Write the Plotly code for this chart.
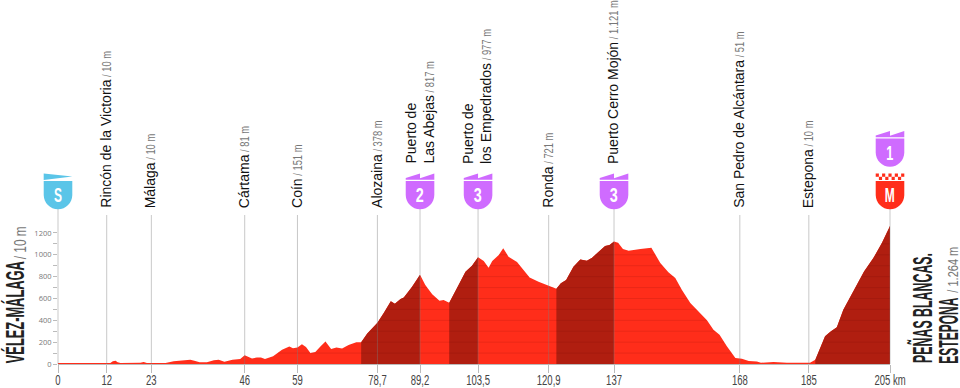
import json
import numpy as np
import plotly.graph_objects as go

# ---- data ----
km = [0, 12.9, 13.5, 14.2, 14.7, 15.4, 20.3, 21.1, 21.9, 23, 26.5, 28.5, 30.6, 32.6, 33.6, 34.9, 36.7, 38.4, 39.6, 41,
      43, 44.9, 46, 47.8, 49, 50, 51, 53, 55.2, 57, 57.9, 59, 60.1, 61.1, 62.2, 63.4, 64.66, 65.9, 67.3, 68.6, 70,
      71.6, 73.5, 74.7, 76.2, 78.2, 78.7, 80.3, 82, 83, 84.4, 85.2, 87.2, 89.2, 90.5, 92.2, 94, 95, 96.4, 98.3,
      100.4, 102, 103.5, 104.9, 106.1, 107, 108.6, 109.7, 111, 113.1, 114.7, 116.2, 118.4, 120.9, 122.8, 123.9,
      125.2, 127, 128.7, 130.3, 131.6, 134.8, 135.9, 137, 138, 139.2, 140.6, 143.5, 146.2, 148.4, 150.4, 152.1,
      153.7, 155.8, 157.8, 159.9, 161.5, 163, 164.8, 166.9, 168.5, 170.2, 172.2, 173.2, 176.3, 179.6, 185.3, 186.6,
      187.8, 189, 190.3, 191.9, 193.5, 196, 198.6, 200.9, 203, 205]
elevation = [10, 10, 25, 30, 15, 10, 12, 18, 10, 10, 10, 25, 35, 40, 30, 15, 15, 35, 40, 20,
             40, 45, 81, 50, 60, 60, 45, 70, 130, 160, 145, 151, 180, 155, 100, 110, 160, 207, 137, 150, 143,
             174, 200, 200, 280, 357, 378, 470, 574, 552, 595, 610, 705, 817, 723, 638, 580, 586, 561, 693,
             845, 900, 977, 943, 882, 943, 998, 1059, 983, 934, 860, 793, 754, 721, 690, 739,
             770, 891, 958, 946, 974, 1080, 1090, 1121, 1110, 1053, 1037, 1053, 1065, 925, 840, 788,
             681, 559, 482, 400, 314, 269, 162, 55, 49, 27, 24, 12, 18, 12, 12, 40,
             146, 253, 296, 336, 497, 665, 848, 970, 1108, 1264]
climb_starts = [74.7, 96.4, 122.8, 186.6]
climb_ends = [89.2, 103.5, 137, 205]

tick_km = [0, 12, 23, 46, 59, 78.7, 89.2, 103.5, 120.9, 137, 168, 185, 205]
tick_text = ["0", "12", "23", "46", "59", "78,7", "89,2", "103,5", "120,9", "137", "168", "185", "205 km"]

place_km = [12, 23, 46, 59, 78.7, 89.2, 103.5, 120.9, 137, 168, 185]
place_names = ["Rincón de la Victoria", "Málaga", "Cártama", "Coín", "Alozaina", "Puerto de<br>Las Abejas",
               "Puerto de<br>los Empedrados", "Ronda", "Puerto Cerro Mojón", "San Pedro de Alcántara", "Estepona"]
place_alt = ["10 m", "10 m", "81 m", "151 m", "378 m", "817 m", "977 m", "721 m", "1.121 m", "51 m", "10 m"]
place_badged = [False, False, False, False, False, True, True, False, True, False, False]

climb_km = [89.2, 103.5, 137]
climb_cat = ["2", "3", "3"]

RED, DARK, PURPLE, BLUE = "#FF2D1A", "#B01E10", "#CF6BFF", "#5BC5E8"
SANS = "Liberation Sans"
W, H = 960, 388
L, R, T, B = 57.5, 70, 220, 24
PW = W - L - R
PXKM = PW / 205
PXM = 0.1092
PH = H - T - B

def py(p):
    return (H - B - p) / PH

def kp(k, dx=0.0):
    return (k * PXKM + dx) / PW

def pp(px):
    return (px - L) / PW

fig = go.Figure()
km_a, el_a = np.array(km), np.array(elevation)
fig.add_trace(go.Scatter(x=km, y=elevation, mode="lines", line=dict(width=0, color=RED), fill="tozeroy",
                         fillcolor=RED, hoverinfo="skip", showlegend=False))
for s, e in zip(climb_starts, climb_ends):
    xs = np.concatenate([[s], km_a[(km_a > s) & (km_a < e)], [e]])
    ys = np.interp(xs, km_a, el_a)
    fig.add_trace(go.Scatter(x=xs, y=ys, mode="lines", line=dict(width=0, color=DARK), fill="tozeroy",
                             fillcolor=DARK, hoverinfo="skip", showlegend=False))

# faint 100 m rules clipped to the profile
fine = np.linspace(0, 205, 2051)
fine_el = np.interp(fine, km_a, el_a)
gx, gy = [], []
for lvl in range(100, 1300, 100):
    inside = fine_el > lvl
    for i in range(len(fine)):
        if inside[i]:
            gx.append(float(fine[i])); gy.append(lvl)
        elif gx and gx[-1] is not None:
            gx.append(None); gy.append(None)
    if gx and gx[-1] is not None:
        gx.append(None); gy.append(None)
fig.add_trace(go.Scatter(x=gx, y=gy, mode="lines", line=dict(width=1, color="rgba(90,0,0,0.12)"),
                         hoverinfo="skip", showlegend=False))

shapes, annos = [], []

# vertical markers
for k, badged in zip([0] + place_km + [205], [True] + place_badged + [True]):
    shapes.append(dict(type="line", xref="paper", yref="paper", x0=kp(k), x1=kp(k), y0=py(364),
                       y1=py(209 if badged else 215), line=dict(color="rgba(125,125,125,0.42)", width=1)))


def body(k, top, color):
    bot = top + 28.3
    r = 14.3
    return dict(type="path", xref="paper", yref="paper", line=dict(width=0), fillcolor=color,
                path=f"M {kp(k,-r)},{py(top)} L {kp(k,r)},{py(top)} L {kp(k,r)},{py(bot-r)} "
                     f"C {kp(k,r)},{py(bot-r*0.45)} {kp(k,r*0.55)},{py(bot)} {kp(k)},{py(bot)} "
                     f"C {kp(k,-r*0.55)},{py(bot)} {kp(k,-r)},{py(bot-r*0.45)} {kp(k,-r)},{py(bot-r)} Z")


def flags(k, top, color):
    r = 14.3
    return dict(type="path", xref="paper", yref="paper", line=dict(width=0), fillcolor=color,
                path=f"M {kp(k,-r)},{py(top-1.2)} L {kp(k,-r)},{py(top-3)} L {kp(k)},{py(top-7.5)} "
                     f"L {kp(k)},{py(top-2.8)} L {kp(k,r)},{py(top-7.5)} L {kp(k,r)},{py(top-1.2)} Z")


def badge_text(k, y, s):
    annos.append(dict(x=kp(k), xref="paper", y=py(y), yref="paper", text=s, showarrow=False, xanchor="center",
                      yanchor="middle", font=dict(family=SANS, size=21, color="white", weight=700)))


# start badge
shapes.append(dict(type="path", xref="paper", yref="paper", line=dict(width=0), fillcolor=BLUE,
                   path=f"M {kp(0,-14.3)},{py(173.5)} L {kp(0,14.3)},{py(176.5)} L {kp(0,-14.3)},{py(180)} Z"))
shapes.append(body(0, 181, BLUE))
badge_text(0, 194.5, "S")

# climb badges
for k, c in zip(climb_km, climb_cat):
    shapes.append(flags(k, 181, PURPLE))
    shapes.append(body(k, 181, PURPLE))
    badge_text(k, 194.5, c)

# finish badges
shapes.append(flags(205, 138.5, PURPLE))
shapes.append(body(205, 138.5, PURPLE))
badge_text(205, 152, "1")
shapes.append(body(205, 181, RED))
badge_text(205, 194.5, "M")
for row, (y0, y1) in enumerate([(173.5, 176.8), (176.8, 180)]):
    for col in range(9):
        if (row + col) % 2 == 0:
            shapes.append(dict(type="rect", xref="paper", yref="paper", line=dict(width=0), fillcolor=RED,
                               x0=kp(205, -14.3 + col * 3.18), x1=kp(205, -14.3 + (col + 1) * 3.18),
                               y0=py(y1), y1=py(y0)))

# place labels
for k, n, a, b in zip(place_km, place_names, place_alt, place_badged):
    txt = (f"{n}<span style=\"font-size:13px;color:#777;font-weight:300\"> / {a}</span>")
    annos.append(dict(x=kp(k), xref="paper", y=py(165 if b else 209), yref="paper", text=txt, showarrow=False,
                      textangle=-90, xanchor="center", yanchor="bottom", align="left",
                      font=dict(family=SANS, size=14, color="#111"), borderpad=0, xshift=-1))

# start / finish titles (placed by their centre because they are condensed after layout)
title_targets = {"VÉLEZ-MÁLAGA": 102, "PEÑAS BLANCAS.": 110, "ESTEPONA": 66, "S": 8, "M": 10, "1": 7, "2": 8, "3": 8,
                 "/ 10 m": 33, "/ 1.264 m": 46}
for px_x, centre, s, size in [(14, 312, "VÉLEZ-MÁLAGA", 25), (922, 308, "PEÑAS BLANCAS.", 27),
                              (949, 330, "ESTEPONA", 27)]:
    annos.append(dict(x=pp(px_x), xref="paper", y=py(centre), yref="paper", text=s, showarrow=False, textangle=-90,
                      xanchor="center", yanchor="middle", font=dict(family=SANS, size=size, color="#222", weight=700),
                      borderpad=0))
annos.append(dict(x=pp(20), xref="paper", y=py(243.5), yref="paper", text="/ 10 m", showarrow=False, textangle=-90,
                  xanchor="center", yanchor="middle", font=dict(family=SANS, size=16, color="#777"), borderpad=0))
annos.append(dict(x=pp(952), xref="paper", y=py(269), yref="paper", text="/ 1.264 m", showarrow=False, textangle=-90,
                  xanchor="center", yanchor="middle", font=dict(family=SANS, size=15, color="#777"), borderpad=0))

fig.update_layout(
    width=W, height=H, margin=dict(l=L, r=R, t=T, b=B, autoexpand=False), paper_bgcolor="white", plot_bgcolor="white",
    showlegend=False, shapes=shapes, annotations=annos, hovermode=False,
    xaxis=dict(range=[0, 205], tickvals=tick_km, ticktext=tick_text, ticks="outside", ticklen=8, tickcolor="#bbb",
               tickwidth=1, showgrid=False, zeroline=False, showline=True, linecolor="#bbb", linewidth=1,
               tickangle=0, tickfont=dict(family=SANS, size=14, color="#444")),
    yaxis=dict(range=[0, PH / PXM], tickvals=list(range(0, 1300, 200)), ticks="outside", ticklen=4, tickcolor="#bbb",
               showgrid=False, zeroline=False, showline=False,
               tickfont=dict(family="Open Sans", size=7.5, color="#777"),
               minor=dict(tickvals=list(range(100, 1300, 200)), ticks="outside", ticklen=4, tickcolor="#bbb")),
)

post = """
document.body.style.margin = '0';
document.body.style.overflow = 'hidden';
var targets = %s;
document.querySelectorAll('.annotation-text').forEach(function(t){
  var s = t.textContent;
  if (targets[s]) { t.setAttribute('textLength', targets[s]); t.setAttribute('lengthAdjust','spacingAndGlyphs'); }
  t.querySelectorAll('tspan').forEach(function(sp){
    if (sp.style && sp.style.fontSize === '13px') {
      sp.setAttribute('textLength', sp.getComputedTextLength()*0.72);
      sp.setAttribute('lengthAdjust','spacingAndGlyphs');
    }
  });
});
document.querySelectorAll('.xtick text').forEach(function(t){
  t.setAttribute('textLength', t.getComputedTextLength()*0.68); t.setAttribute('lengthAdjust','spacingAndGlyphs');
  t.setAttribute('y', parseFloat(t.getAttribute('y')) - 5);
});
""" % json.dumps(title_targets, ensure_ascii=False)

fig.write_html("out.html", post_script=post, config=dict(displayModeBar=False))
